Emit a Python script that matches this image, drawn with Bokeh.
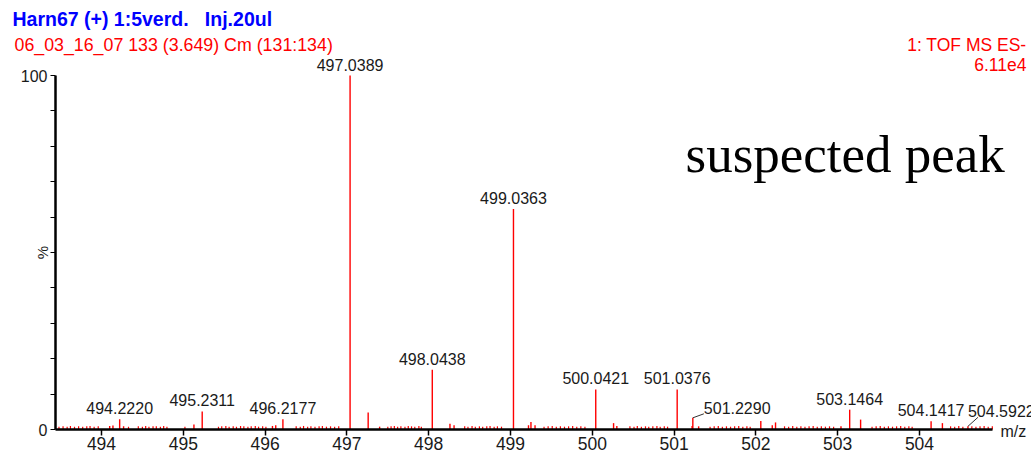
from math import pi

from bokeh.plotting import figure
from bokeh.models import Range1d, FixedTicker
from bokeh.core.properties import value
from bokeh.embed import file_html
from bokeh.resources import INLINE

# ---- spectrum data (m/z, relative intensity %) ----
# labelled centroids
peak_mz = [494.2220, 495.2311, 496.2177, 497.0389, 498.0438, 499.0363,
           500.0421, 501.0376, 501.2290, 503.1464, 504.1417, 504.5922]
peak_int = [2.9, 5.1, 2.9, 100.0, 16.9, 62.3,
            11.3, 11.3, 3.3, 5.6, 2.3, 0.9]

# smaller unlabelled centroids
minor_mz = [494.10, 494.14, 494.27, 495.13, 496.09, 496.13, 497.26, 497.40,
            498.26, 498.31, 499.22, 499.25, 499.30, 500.26, 500.30, 501.22,
            501.30, 502.06, 502.20, 502.24, 503.04, 503.28, 504.28]
minor_int = [1.0, 1.1, 0.9, 1.4, 1.0, 1.2, 4.8, 0.8,
             1.6, 1.2, 1.2, 2.1, 1.2, 1.8, 1.0, 1.0,
             0.9, 2.4, 1.2, 2.0, 0.9, 2.8, 1.8]

# baseline noise
noise_mz = [493.48, 493.53, 493.58, 493.62, 493.67, 493.72, 493.77, 493.82, 493.86, 493.91, 493.96,
            494.33, 494.45, 494.50, 494.54, 494.58, 494.63, 494.67, 494.72, 494.76, 494.80, 495.02,
            495.43, 495.47, 495.52, 495.56, 495.61, 495.65, 495.70, 495.74, 495.79, 495.83, 495.88, 495.92, 495.97, 496.01,
            496.38, 496.43, 496.47, 496.52, 496.56, 496.61, 496.66, 496.70, 496.75, 496.80, 496.85, 496.90,
            497.50, 497.54, 497.58, 497.62, 497.66, 497.71, 497.75, 497.79, 497.83, 497.88, 497.91,
            498.44, 498.48, 498.53, 498.57, 498.62, 498.66, 498.71, 498.75, 498.80, 498.84, 498.89,
            499.41, 499.46, 499.51, 499.56, 499.61, 499.66, 499.71, 499.76, 499.81, 499.86, 499.91,
            500.46, 500.51, 500.55, 500.60, 500.65, 500.69, 500.74, 500.79, 500.83, 500.88, 500.92,
            501.44, 501.49, 501.54, 501.59, 501.64, 501.69, 501.74, 501.79, 501.84, 501.89, 501.93,
            502.35, 502.40, 502.45, 502.50, 502.55, 502.60, 502.65, 502.70, 502.75, 502.80, 502.85, 502.90, 502.95,
            503.42, 503.47, 503.52, 503.57, 503.62, 503.67, 503.72, 503.77, 503.82, 503.87, 503.91,
            504.38, 504.43, 504.48, 504.53, 504.64, 504.69, 504.74, 504.79, 504.84, 504.89]
noise_int = [0.8, 0.9, 0.8, 1.0, 0.8, 0.9, 0.8, 0.9, 1.0, 0.8, 0.9,
             0.8, 0.9, 0.8, 1.0, 0.8, 0.9, 0.9, 0.8, 1.0, 0.8, 0.8,
             0.8, 0.9, 1.0, 0.8, 0.9, 0.8, 1.0, 0.9, 0.8, 0.9, 1.0, 0.8, 0.9, 0.8,
             0.9, 0.8, 1.0, 0.8, 0.9, 0.8, 0.9, 1.0, 0.8, 0.9, 0.8, 0.9,
             0.8, 0.9, 1.0, 0.8, 0.9, 0.8, 1.0, 0.9, 0.8, 1.0, 0.8,
             0.9, 0.8, 1.0, 0.8, 0.9, 0.8, 0.9, 1.0, 0.8, 0.9, 0.8,
             0.8, 0.9, 1.0, 0.8, 0.9, 0.8, 0.9, 1.0, 0.8, 0.9, 0.8,
             0.9, 0.8, 1.0, 0.8, 0.9, 0.8, 0.9, 1.0, 0.8, 0.9, 0.8,
             0.8, 0.9, 1.0, 0.8, 0.9, 0.8, 0.9, 1.0, 0.8, 0.9, 0.8,
             0.9, 0.8, 1.0, 0.8, 0.9, 0.8, 0.9, 1.0, 0.8, 0.9, 0.8, 0.9, 0.8,
             0.8, 0.9, 1.0, 0.8, 0.9, 0.8, 0.9, 1.0, 0.8, 0.9, 0.8,
             0.9, 0.8, 1.0, 0.8, 0.9, 0.8, 0.9, 1.0, 0.8, 0.9]

x_ticks = [494, 495, 496, 497, 498, 499, 500, 501, 502, 503, 504]
y_ticks = [0, 10, 20, 30, 40, 50, 60, 70, 80, 90, 100]
y_tick_labels = {0: "0", 100: "100"}

# non-breaking spaces keep the wide gap before "Inj."
title_line = "Harn67 (+) 1:5verd.\u00a0\u00a0\u00a0Inj.20ul"
scan_line = "06_03_16_07 133 (3.649) Cm (131:134)"
instrument_line = "1: TOF MS ES-"
scale_line = "6.11e4"
note_text = "suspected peak"
x_caption = "m/z"
y_caption = "%"

# ---- page geometry: the frame fills the page, axes sit at fixed positions ----
W, H = 1031, 455
ZERO_PX = 429             # page row of 0 %
PX_PER_MZ = 81.8
PX_PER_PCT = 3.54
REF_MZ, REF_PX = 494.0, 101


def px_x(px):
    return REF_MZ + (px - REF_PX) / PX_PER_MZ


def px_y(py):
    return (ZERO_PX - py) / PX_PER_PCT


x_lo, x_hi = px_x(0), px_x(W)
y_lo, y_hi = px_y(H), px_y(0)
axis_x_start = px_x(55)
axis_x_end = px_x(992)

RED = "#ff0000"
INK = "#1a1a1a"
SANS = "Liberation Sans"

p = figure(width=W, height=H, x_range=Range1d(x_lo, x_hi), y_range=Range1d(y_lo, y_hi),
           output_backend="svg", toolbar_location=None,
           min_border_left=0, min_border_right=0, min_border_top=0, min_border_bottom=0)
p.outline_line_color = None
p.xgrid.visible = False
p.ygrid.visible = False
p.background_fill_color = "white"
p.border_fill_color = "white"

# m/z axis along 0 %
xa = p.xaxis[0]
xa.fixed_location = 0
xa.bounds = (axis_x_start, axis_x_end)
xa.ticker = FixedTicker(ticks=x_ticks)
xa.axis_line_width = 2.5
xa.axis_line_color = "black"
xa.major_tick_out = 6
xa.major_tick_in = 0
xa.major_tick_line_width = 1.5
xa.minor_tick_out = 0
xa.minor_tick_in = 0
xa.major_label_standoff = 1
xa.major_label_text_font = SANS
xa.major_label_text_font_size = "17.5px"
xa.major_label_text_color = INK

# intensity axis
ya = p.yaxis[0]
ya.fixed_location = axis_x_start
ya.bounds = (0, 100)
ya.ticker = FixedTicker(ticks=y_ticks)
ya.major_label_overrides = {t: y_tick_labels.get(t, "") for t in y_ticks}
ya.axis_line_width = 2.5
ya.axis_line_color = "black"
ya.major_tick_out = 5
ya.major_tick_in = 0
ya.major_tick_line_width = 1.2
ya.minor_tick_out = 0
ya.minor_tick_in = 0
ya.major_label_standoff = 3
ya.major_label_text_font = SANS
ya.major_label_text_font_size = "16px"
ya.major_label_text_color = INK

# sticks
p.segment(x0=noise_mz, y0=[0] * len(noise_mz), x1=noise_mz, y1=noise_int,
          line_color=RED, line_width=1.2)
p.segment(x0=minor_mz, y0=[0] * len(minor_mz), x1=minor_mz, y1=minor_int,
          line_color=RED, line_width=1.4)
p.segment(x0=peak_mz, y0=[0] * len(peak_mz), x1=peak_mz, y1=peak_int,
          line_color=RED, line_width=1.4)

# centroid labels centred above their sticks
side_peaks = (501.2290, 504.5922)
centred = [i for i in range(len(peak_mz)) if peak_mz[i] not in side_peaks]
p.text(x=[peak_mz[i] for i in centred], y=[peak_int[i] for i in centred],
       text=[f"{peak_mz[i]:.4f}" for i in centred],
       text_align="center", text_baseline="middle", y_offset=-11,
       text_font=value(SANS), text_font_size="16px", text_color=INK)

# two labels pushed aside, joined to their sticks by short leaders
side = [i for i in range(len(peak_mz)) if peak_mz[i] in side_peaks]
lead_dx = [11, 10]        # px
lead_dy = [4, 9]          # px
text_dx = [11, 0]         # px
text_dy = [10, 15]        # px above stick top, to text middle
p.segment(x0=[peak_mz[i] for i in side], y0=[peak_int[i] for i in side],
          x1=[peak_mz[i] + dx / PX_PER_MZ for i, dx in zip(side, lead_dx)],
          y1=[peak_int[i] + dy / PX_PER_PCT for i, dy in zip(side, lead_dy)],
          line_color="#333333", line_width=1)
p.text(x=[peak_mz[i] + dx / PX_PER_MZ for i, dx in zip(side, text_dx)],
       y=[peak_int[i] + dy / PX_PER_PCT for i, dy in zip(side, text_dy)],
       text=[f"{peak_mz[i]:.4f}" for i in side],
       text_align="left", text_baseline="middle",
       text_font=value(SANS), text_font_size="16px", text_color=INK)

# axis captions
p.text(x=[px_x(1000)], y=[px_y(431)], text=[x_caption], text_align="left",
       text_baseline="middle", text_font=value(SANS), text_font_size="16px",
       text_color=INK)
p.text(x=[px_x(42)], y=[50], text=[y_caption], angle=pi / 2,
       text_align="center", text_baseline="middle", text_font=value(SANS),
       text_font_size="15px", text_color=INK)

# header lines
p.text(x=[px_x(12)], y=[px_y(18)], text=[title_line], text_align="left",
       text_baseline="middle", text_font=value(SANS), text_font_style="bold",
       text_font_size="19.5px", text_color="#0000ff")
p.text(x=[px_x(14)], y=[px_y(44)], text=[scan_line], text_align="left",
       text_baseline="middle", text_font=value(SANS), text_font_size="17.8px",
       text_color=RED)
p.text(x=[px_x(1026), px_x(1026)], y=[px_y(44), px_y(64)],
       text=[instrument_line, scale_line], text_align="right",
       text_baseline="middle", text_font=value(SANS),
       text_font_size="17.5px", text_color=RED)

# annotation text
p.text(x=[px_x(685)], y=[px_y(153)], text=[note_text], text_align="left",
       text_baseline="middle", text_font=value("Liberation Serif"),
       text_font_size="53px", text_color="black")

open("out.html", "w").write(file_html(p, INLINE))
